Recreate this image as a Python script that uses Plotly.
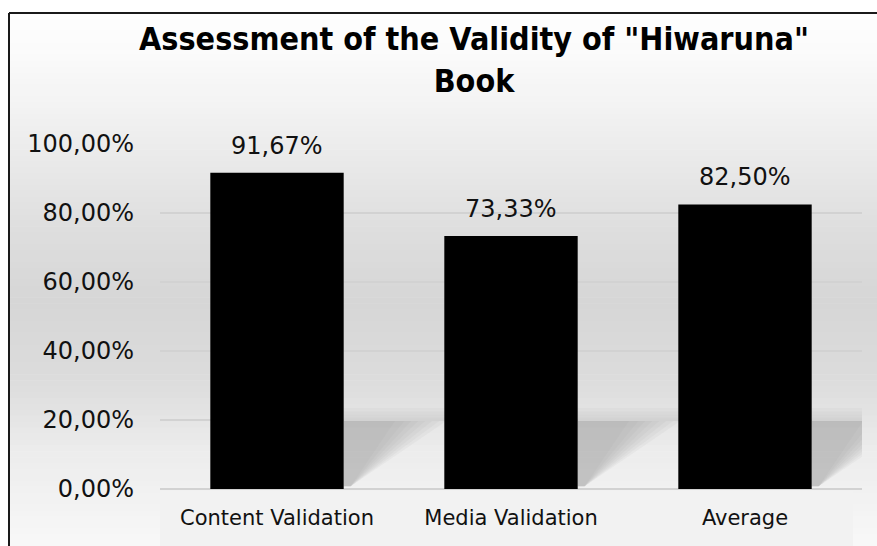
import plotly.graph_objects as go

categories = ["Content Validation", "Media Validation", "Average"]
values = [0.9167, 0.7333, 0.8250]
tick_vals = [0, 0.2, 0.4, 0.6, 0.8, 1.0]

title_text = 'Assessment of the Validity of "Hiwaruna"<br>Book'

W, H = 877, 546
ML, MR, MT, MB = 160, 15, 144, 57
PW, PH = W - ML - MR, H - MT - MB
FONT = "DejaVu Sans"
TITLE_FONT = "DejaVu Sans Condensed, DejaVu Sans"
BAR_W = 0.57


def py(p):  # pixel row -> paper y
    return (H - MB - p) / PH


def px(p):  # pixel column -> paper x
    return (p - ML) / PW


fig = go.Figure()
fig.add_trace(go.Bar(
    x=categories, y=values, width=BAR_W,
    marker=dict(color="#000000", line=dict(width=0)),
    hoverinfo="x+y",
))

annotations = []
for c, v in zip(categories, values):
    annotations.append(dict(x=c, y=v, xref="x", yref="y", text=f"{v * 100:.2f}%".replace(".", ","),
                            showarrow=False, yanchor="bottom", yshift=11,
                            font=dict(family=FONT, size=24, color="#111111")))

shapes = []
# gradient inside frame
stops = [(13, 254), (60, 250), (144, 236), (230, 222), (300, 214), (380, 220), (450, 236), (546, 248)]
N = 90
for k in range(N):
    p0 = 13 + (546 - 13) * k / N
    p1 = 13 + (546 - 13) * (k + 1) / N
    pm = (p0 + p1) / 2
    c = stops[-1][1]
    for j in range(len(stops) - 1):
        a, ca = stops[j]
        b, cb = stops[j + 1]
        if a <= pm <= b:
            c = int(round(ca + (cb - ca) * (pm - a) / (b - a)))
            break
    shapes.append(dict(type="rect", xref="paper", yref="paper",
                       x0=px(9), x1=px(W + 5), y0=py(p1 + 0.6), y1=py(p0),
                       fillcolor=f"rgb({c},{c},{c})", line=dict(width=0), layer="below"))
# lighter band under the axis
shapes.append(dict(type="rect", xref="paper", yref="paper", x0=0, x1=px(853),
                   y0=py(546), y1=py(491), fillcolor="#f2f2f2",
                   line=dict(width=0), layer="below"))
# soft bar shadows
for i, v in enumerate(values):
    r = i + BAR_W / 2
    for dx_top in [0.44, 0.41, 0.38, 0.35, 0.32, 0.29, 0.26, 0.22]:
        shapes.append(dict(type="path", xref="x", yref="y",
                           path=f"M {r},0.198 L {r + dx_top},0.198 L {r + 0.03},0.008 L {r},0.008 Z",
                           fillcolor="#8c8c8c", opacity=0.07, line=dict(width=0), layer="below"))
    for k, top in enumerate([0.235, 0.225, 0.215, 0.207]):
        shapes.append(dict(type="rect", xref="x", yref="y", x0=r, x1=min(r + 0.44, 2.5),
                           y0=0.2, y1=top, fillcolor="#9a9a9a", opacity=0.06,
                           line=dict(width=0), layer="below"))
# frame
shapes.append(dict(type="line", xref="paper", yref="paper", x0=px(9), x1=px(W + 5),
                   y0=py(13), y1=py(13), line=dict(color="#1a1a1a", width=2)))
shapes.append(dict(type="line", xref="paper", yref="paper", x0=px(9), x1=px(9),
                   y0=py(13), y1=py(H + 5), line=dict(color="#1a1a1a", width=2)))

fig.update_layout(
    width=W, height=H,
    margin=dict(l=ML, r=MR, t=MT, b=MB),
    paper_bgcolor="#ffffff", plot_bgcolor="rgba(0,0,0,0)",
    separators=",.",
    showlegend=False,
    shapes=shapes,
    annotations=annotations,
    title=dict(text=title_text, x=474 / W, xanchor="center", xref="container", y=1 - 50 / H, yanchor="middle",
               font=dict(family=TITLE_FONT, size=32, color="#000000", weight="bold")),
    font=dict(family=FONT, color="#111111"),
    bargap=1 - BAR_W,
)
fig.update_yaxes(range=[0, 1.0], tickvals=tick_vals, tickformat=".2%",
                 showgrid=True, gridcolor="#d2d2d2", gridwidth=2,
                 zeroline=True, zerolinecolor="#d2d2d2", zerolinewidth=2,
                 tickfont=dict(family=FONT, size=24, color="#111111"), ticks="", ticklen=0,
                 ticklabelstandoff=25, showline=False)
fig.update_xaxes(tickfont=dict(family=FONT, size=21, color="#111111"), showline=False,
                 ticks="", showgrid=False, range=[-0.5, 2.5], ticklabelstandoff=14)

fig.write_html("out.html", config={"displayModeBar": False},
               post_script="document.body.style.margin='0';document.body.style.overflow='hidden';")
